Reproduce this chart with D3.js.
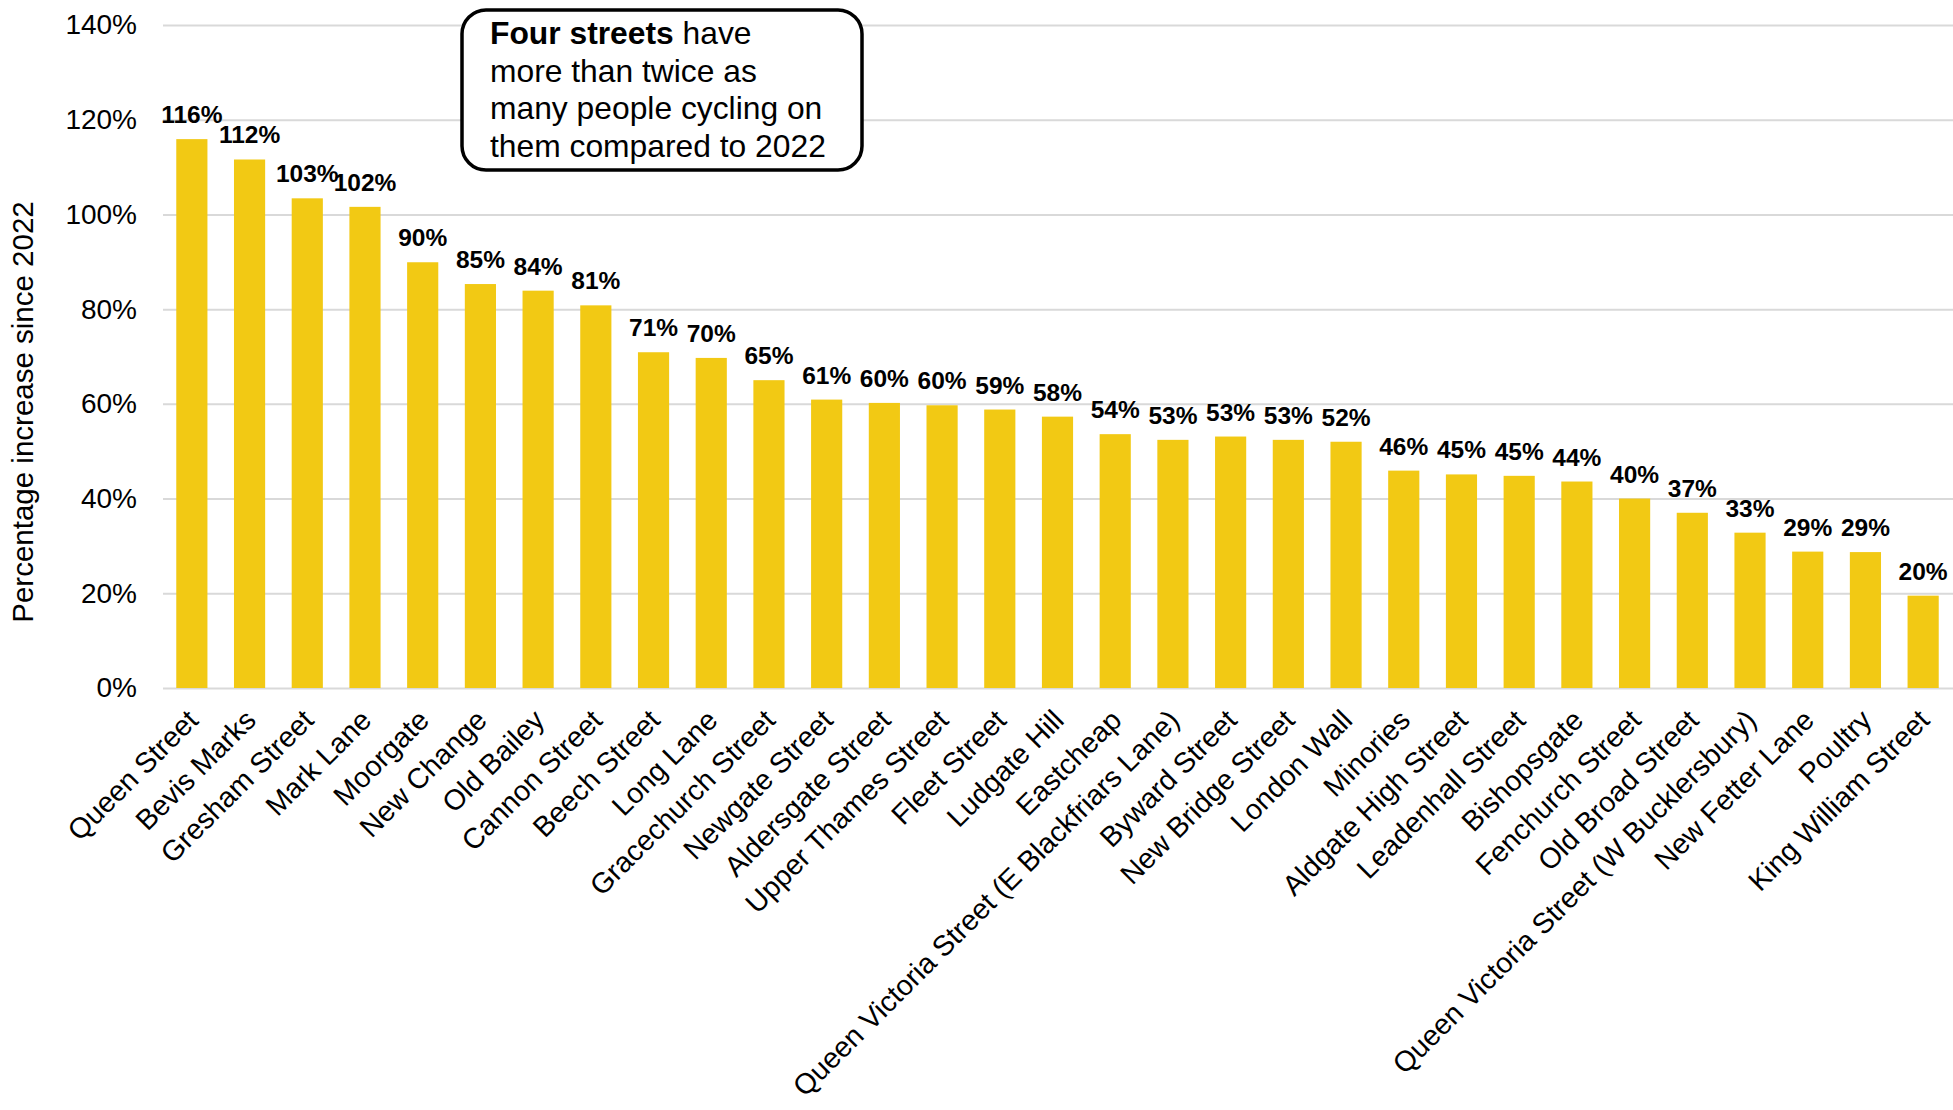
<!DOCTYPE html>
<html>
<head>
<meta charset="utf-8">
<script src="https://cdn.jsdelivr.net/npm/d3@7"></script>
<style>
  html, body { margin: 0; padding: 0; background: #ffffff; }
  svg { display: block; font-family: "Liberation Sans", Arial, sans-serif; }
</style>
</head>
<body>
<svg id="chart" width="1953" height="1110"></svg>
<script>
const categories = [
  "Queen Street", "Bevis Marks", "Gresham Street", "Mark Lane", "Moorgate",
  "New Change", "Old Bailey", "Cannon Street", "Beech Street", "Long Lane",
  "Gracechurch Street", "Newgate Street", "Aldersgate Street", "Upper Thames Street",
  "Fleet Street", "Ludgate Hill", "Eastcheap", "Queen Victoria Street (E Blackfriars Lane)",
  "Byward Street", "New Bridge Street", "London Wall", "Minories", "Aldgate High Street",
  "Leadenhall Street", "Bishopsgate", "Fenchurch Street", "Old Broad Street",
  "Queen Victoria Street (W Bucklersbury)", "New Fetter Lane", "Poultry", "King William Street"
];
const values = [
  1.159, 1.116, 1.034, 1.016, 0.899,
  0.853, 0.839, 0.808, 0.709, 0.697,
  0.650, 0.609, 0.602, 0.597,
  0.588, 0.573, 0.536, 0.524,
  0.531, 0.524, 0.520, 0.459, 0.451,
  0.448, 0.436, 0.400, 0.370,
  0.328, 0.288, 0.287, 0.195
];
const valueLabels = [
  "116%", "112%", "103%", "102%", "90%",
  "85%", "84%", "81%", "71%", "70%",
  "65%", "61%", "60%", "60%",
  "59%", "58%", "54%", "53%",
  "53%", "53%", "52%", "46%", "45%",
  "45%", "44%", "40%", "37%",
  "33%", "29%", "29%", "20%"
];
const yTicks = [0, 0.2, 0.4, 0.6, 0.8, 1.0, 1.2, 1.4];
const yTitle = "Percentage increase since 2022";
const noteBold = "Four streets";
const noteLines = [" have", "more than twice as", "many people cycling on", "them compared to 2022"];

const svg = d3.select("#chart");
const plotLeft = 163, plotRight = 1952, plotTop = 25, plotBottom = 688;

const x = d3.scaleBand()
  .domain(categories)
  .range([plotLeft, plotRight])
  .paddingInner(0.46)
  .paddingOuter(0.23);

const y = d3.scaleLinear().domain([0, 1.4]).range([plotBottom, plotTop]);

// gridlines
const yAxis = d3.axisLeft(y)
  .tickValues(yTicks)
  .tickSize(-(plotRight - plotLeft + 1))
  .tickPadding(26)
  .tickFormat(d3.format(".0%"));

const gAxis = svg.append("g")
  .attr("transform", `translate(${plotLeft},0)`)
  .call(yAxis);
gAxis.select(".domain").remove();
gAxis.selectAll(".tick line").attr("stroke", "#d9d9d9").attr("stroke-width", 2);
gAxis.selectAll(".tick text")
  .attr("fill", "#000")
  .attr("font-size", 28)
  .attr("font-family", "Liberation Sans, Arial, sans-serif");

// bars
svg.append("g").selectAll("rect")
  .data(categories)
  .join("rect")
  .attr("x", d => x(d))
  .attr("width", x.bandwidth())
  .attr("y", (d, i) => y(values[i]))
  .attr("height", (d, i) => y(0) - y(values[i]))
  .attr("fill", "#f2c914");

// value labels
svg.append("g").selectAll("text")
  .data(categories)
  .join("text")
  .attr("x", d => x(d) + x.bandwidth() / 2)
  .attr("y", (d, i) => y(values[i]) - 16)
  .attr("text-anchor", "middle")
  .attr("font-size", 24.5)
  .attr("font-weight", "bold")
  .attr("fill", "#000")
  .text((d, i) => valueLabels[i]);

// x axis labels
const xAxis = d3.axisBottom(x).tickSize(0).tickPadding(0);
const gx = svg.append("g").attr("transform", `translate(0,${plotBottom})`).call(xAxis);
gx.select(".domain").remove();
gx.selectAll(".tick text")
  .attr("font-size", 28.6)
  .attr("font-family", "Liberation Sans, Arial, sans-serif")
  .attr("fill", "#000")
  .attr("text-anchor", "end")
  .attr("dy", null)
  .attr("y", 0)
  .attr("transform", "translate(8,34) rotate(-45)");

// y axis title
svg.append("text")
  .attr("transform", `translate(33,412) rotate(-90)`)
  .attr("text-anchor", "middle")
  .attr("font-size", 29.5)
  .attr("fill", "#000")
  .text(yTitle);

// annotation box
const note = svg.append("g");
note.append("rect")
  .attr("x", 462).attr("y", 10)
  .attr("width", 400).attr("height", 160)
  .attr("rx", 24).attr("ry", 24)
  .attr("fill", "#fff")
  .attr("stroke", "#000")
  .attr("stroke-width", 3.5);
const noteText = note.append("text")
  .attr("x", 490).attr("y", 44)
  .attr("font-size", 31.8)
  .attr("fill", "#000");
noteText.append("tspan").attr("font-weight", "bold").text(noteBold);
noteText.append("tspan").text(noteLines[0]);
noteLines.slice(1).forEach((line, i) => {
  noteText.append("tspan").attr("x", 490).attr("y", 44 + 37.6 * (i + 1)).text(line);
});
</script>
</body>
</html>
